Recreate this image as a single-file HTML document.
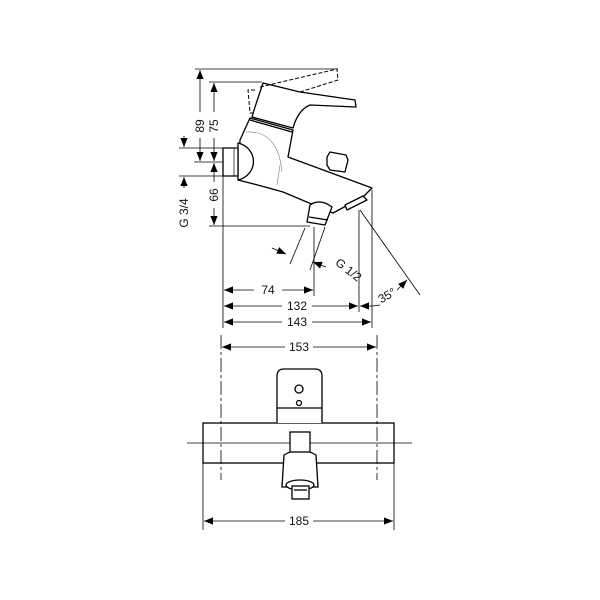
<!DOCTYPE html>
<html><head><meta charset="utf-8"><style>
html,body{margin:0;padding:0;background:#fff;width:600px;height:600px;overflow:hidden}
svg{display:block}
text{font-family:"Liberation Sans",sans-serif;font-size:12px;fill:#111}
</style></head><body>
<svg width="600" height="600" viewBox="0 0 600 600" xmlns="http://www.w3.org/2000/svg">
<defs>
<marker id="a" viewBox="0 0 10 10" refX="10" refY="5" markerWidth="9" markerHeight="9" orient="auto-start-reverse" markerUnits="userSpaceOnUse"><path d="M0,1 L10,5 L0,9 Z" fill="#000"/></marker>
</defs>
<g stroke="#000" fill="none" stroke-width="0.8">
<line x1="195" y1="69" x2="338" y2="69"/>
<line x1="209" y1="82" x2="262" y2="82"/>
<line x1="179" y1="148" x2="223" y2="148"/>
<line x1="194" y1="162" x2="230" y2="162"/>
<line x1="179" y1="176" x2="225" y2="176"/>
<line x1="209" y1="226" x2="310" y2="226"/>
<line x1="223" y1="176" x2="223" y2="328"/>
<line x1="314" y1="227" x2="314" y2="296"/>
<line x1="359" y1="210" x2="359" y2="312"/>
<line x1="372" y1="190" x2="372" y2="328"/>
<line x1="360" y1="210" x2="420" y2="295"/>
<line x1="200" y1="70" x2="200" y2="112" marker-start="url(#a)"/>
<line x1="200" y1="138" x2="200" y2="161" marker-end="url(#a)"/>
<line x1="214" y1="83" x2="214" y2="112" marker-start="url(#a)"/>
<line x1="214" y1="138" x2="214" y2="161" marker-end="url(#a)"/>
<line x1="184" y1="136" x2="184" y2="147" marker-end="url(#a)"/>
<line x1="184" y1="188" x2="184" y2="177" marker-end="url(#a)"/>
<line x1="214" y1="163" x2="214" y2="182" marker-start="url(#a)"/>
<line x1="214" y1="208" x2="214" y2="225" marker-end="url(#a)"/>
<line x1="224" y1="290" x2="254" y2="290" marker-start="url(#a)"/>
<line x1="282" y1="290" x2="313" y2="290" marker-end="url(#a)"/>
<line x1="224" y1="306" x2="282" y2="306" marker-start="url(#a)"/>
<line x1="312" y1="306" x2="358" y2="306" marker-end="url(#a)"/>
<line x1="224" y1="322" x2="282" y2="322" marker-start="url(#a)"/>
<line x1="312" y1="322" x2="371" y2="322" marker-end="url(#a)"/>
<line x1="373" y1="306" x2="360" y2="306" marker-end="url(#a)"/>
<line x1="373" y1="306" x2="380" y2="305"/>
<line x1="397" y1="290" x2="407" y2="280" marker-end="url(#a)"/>
<line x1="272" y1="248" x2="286" y2="254" marker-end="url(#a)"/>
<line x1="290" y1="264" x2="305" y2="228"/>
<line x1="310" y1="270" x2="325" y2="227"/>
<line x1="326" y1="267" x2="313" y2="262" marker-end="url(#a)"/>
</g>
<g stroke="#000" fill="#fff" stroke-width="1.3" stroke-linejoin="round">
<path d="M250,118 L240,140 L238,180 Q262,186 283,192 L333,213 L363,197 L372,188 L288,157 L293,130 Z"/>
<path d="M238,143 A20,19 0 0 1 238,180 Z"/>
<rect x="223" y="148" width="15" height="28"/>
<line x1="234" y1="148" x2="234" y2="176" stroke-width="0.7"/>
<path d="M263,83 L300,92 L355,100 L356,107 L310,105 Q298,110 293,128 L252,117 L255,107 Z"/>
<line x1="250" y1="120" x2="292" y2="132" />
<path d="M327,157 L330,152 L346,155 L348,160 L345,172 L330,170 L327,165 Z"/>
<path d="M347,210 L345,205 L363,196 L367,200 Z"/>
<path d="M310,205 Q320,198 332,207 L325,225 L307,222 Z"/>
<line x1="309" y1="217" x2="328" y2="220"/>
</g>
<g stroke="#000" fill="none" stroke-width="1" stroke-dasharray="4,2">
<path d="M260,87 L337,69 L338,80 L300,92"/>
<path d="M255,90 L248,90 L250,113 L253,113"/>
</g>
<g stroke="#777" fill="none" stroke-width="0.6">
<path d="M246,132 Q278,130 282,172"/>
<path d="M277,185 L280,165"/>
</g>
<text x="0" y="0" transform="translate(204,126) rotate(-90)" text-anchor="middle">89</text>
<text x="0" y="0" transform="translate(218,126) rotate(-90)" text-anchor="middle">75</text>
<text x="0" y="0" transform="translate(218,195) rotate(-90)" text-anchor="middle">66</text>
<text x="0" y="0" transform="translate(188,213) rotate(-90)" text-anchor="middle">G 3/4</text>
<text x="0" y="0" transform="translate(346,273) rotate(38)" text-anchor="middle">G 1/2</text>
<text x="0" y="0" transform="translate(389,299) rotate(-30)" text-anchor="middle">35°</text>
<text x="268" y="294" text-anchor="middle">74</text>
<text x="297" y="310" text-anchor="middle">132</text>
<text x="297" y="326" text-anchor="middle">143</text>
<g stroke="#000" fill="none" stroke-width="0.8">
<line x1="221" y1="335" x2="221" y2="480" stroke-dasharray="14,3,3,3"/>
<line x1="377" y1="335" x2="377" y2="480" stroke-dasharray="14,3,3,3"/>
<line x1="203" y1="463" x2="203" y2="530"/>
<line x1="394" y1="463" x2="394" y2="530"/>
<line x1="187" y1="443" x2="412" y2="443"/>
<line x1="222" y1="347" x2="285" y2="347" marker-start="url(#a)"/>
<line x1="313" y1="347" x2="376" y2="347" marker-end="url(#a)"/>
<line x1="204" y1="521" x2="285" y2="521" marker-start="url(#a)"/>
<line x1="313" y1="521" x2="393" y2="521" marker-end="url(#a)"/>
</g>
<text x="299" y="351" text-anchor="middle">153</text>
<text x="299" y="525" text-anchor="middle">185</text>
<g stroke="#000" fill="#fff" stroke-width="1.3">
<rect x="203" y="423" width="191" height="40" fill="none"/>
<path d="M277,423 L277,376 Q277,369 284,369 L315,369 Q322,369 322,376 L322,423" />
<line x1="277" y1="408" x2="322" y2="408"/>
<circle cx="299" cy="389" r="4"/>
<circle cx="299" cy="403" r="2.5"/>
<path d="M284,455 Q300,445 316,455 L318,487 L282,487 Z"/>
<rect x="290" y="432" width="20" height="20"/>
<ellipse cx="300" cy="485" rx="14" ry="5"/>
<rect x="292" y="486" width="17" height="13"/>
<line x1="294" y1="490" x2="307" y2="490"/>
</g>
</svg>
</body></html>
